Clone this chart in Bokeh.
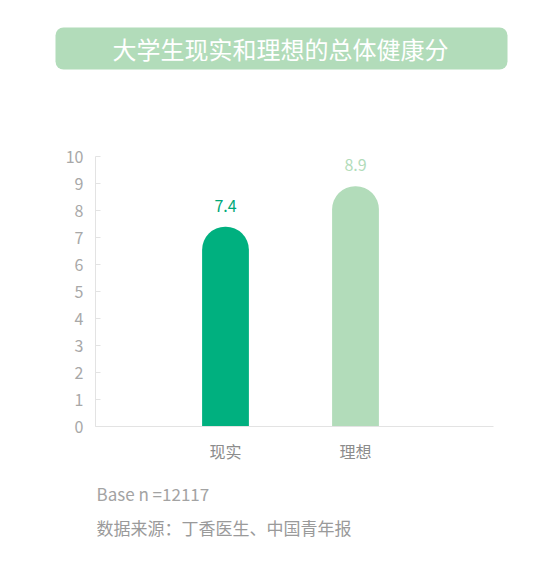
from bokeh.plotting import figure
from bokeh.models import Range1d, FixedTicker, ColumnDataSource
from bokeh.core.properties import value
from bokeh.embed import file_html
from bokeh.resources import INLINE

# ---- data ----
title_text = "大学生现实和理想的总体健康分"
categories = ["现实", "理想"]
scores = [7.4, 8.9]
bar_colors = ["#00b07f", "#b2dcba"]
label_colors = ["#00a878", "#b2dcba"]
y_ticks = [0, 1, 2, 3, 4, 5, 6, 7, 8, 9, 10]
base_note = "Base n =12117"
source_note = "数据来源：丁香医生、中国青年报"

FONT = "Noto Sans CJK SC"
W, H = 545, 556          # canvas size (px)
X0, UX = 95, 130         # pixel of x=0, px per category step
Y0, UY = 426, 27         # pixel of y=0, px per score unit

xs = list(range(1, len(categories) + 1))
src = ColumnDataSource(dict(
    x=xs, score=scores, color=bar_colors, lcolor=label_colors,
    label=[f"{s:.1f}" for s in scores],
))

p = figure(width=W, height=H, title=None, output_backend="svg",
           toolbar_location=None,
           x_range=Range1d(-X0 / UX, (W - X0) / UX),
           y_range=Range1d(-(H - Y0) / UY, Y0 / UY),
           min_border=0)
p.outline_line_color = None
p.grid.visible = False
# pixel-space ranges for the decorative header / footer
p.extra_x_ranges = {"px": Range1d(0, W)}
p.extra_y_ranges = {"px": Range1d(H, 0)}

# y axis (drawn at x = 0 inside the canvas)
p.yaxis.fixed_location = 0
p.yaxis.bounds = (0, 10)
p.yaxis.ticker = FixedTicker(ticks=y_ticks)
p.yaxis.axis_line_color = "#e3e3e3"
p.yaxis.major_tick_line_color = "#e3e3e3"
p.yaxis.major_tick_in = 5
p.yaxis.major_tick_out = 0
p.yaxis.minor_tick_line_color = None
p.yaxis.major_label_standoff = 12
p.yaxis.major_label_text_font = FONT
p.yaxis.major_label_text_font_size = "16px"
p.yaxis.major_label_text_color = "#a8a8a8"

# x axis (drawn at y = 0)
p.xaxis.fixed_location = 0
p.xaxis.bounds = (0, 3.06)
p.xaxis.ticker = FixedTicker(ticks=xs)
p.xaxis.major_label_overrides = {x: c for x, c in zip(xs, categories)}
p.xaxis.axis_line_color = "#e3e3e3"
p.xaxis.major_tick_line_color = None
p.xaxis.minor_tick_line_color = None
p.xaxis.major_tick_in = 0
p.xaxis.major_tick_out = 0
p.xaxis.major_label_standoff = 12
p.xaxis.major_label_text_font = FONT
p.xaxis.major_label_text_font_size = "16px"
p.xaxis.major_label_text_color = "#8c8c8c"

# bars with rounded tops
p.vbar(x="x", top="score", bottom=0, width=0.36, fill_color="color",
       line_color=None, source=src, border_radius=(23, 23, 0, 0))

# value labels
p.text(x="x", y="score", text="label", source=src, text_color="lcolor",
       text_align="center", text_baseline="middle", y_offset=-21,
       text_font=value(FONT), text_font_size="16px")

# header banner
p.quad(left=[55], right=[507], top=[27], bottom=[69], fill_color="#b2dcba",
       line_color=None, border_radius=8, x_range_name="px", y_range_name="px")
p.text(x=[280], y=[48], text=[title_text], text_color="white",
       text_align="center", text_baseline="middle",
       text_font=value(FONT), text_font_size="24px",
       x_range_name="px", y_range_name="px")

# footer notes
p.text(x=[96], y=[493], text=[base_note], text_color="#a3a3a3",
       text_align="left", text_baseline="middle",
       text_font=value(FONT), text_font_size="17px",
       x_range_name="px", y_range_name="px")
p.text(x=[96], y=[527], text=[source_note], text_color="#9a9a9a",
       text_align="left", text_baseline="middle",
       text_font=value(FONT), text_font_size="17px",
       x_range_name="px", y_range_name="px")

open("out.html", "w").write(file_html(p, INLINE))
